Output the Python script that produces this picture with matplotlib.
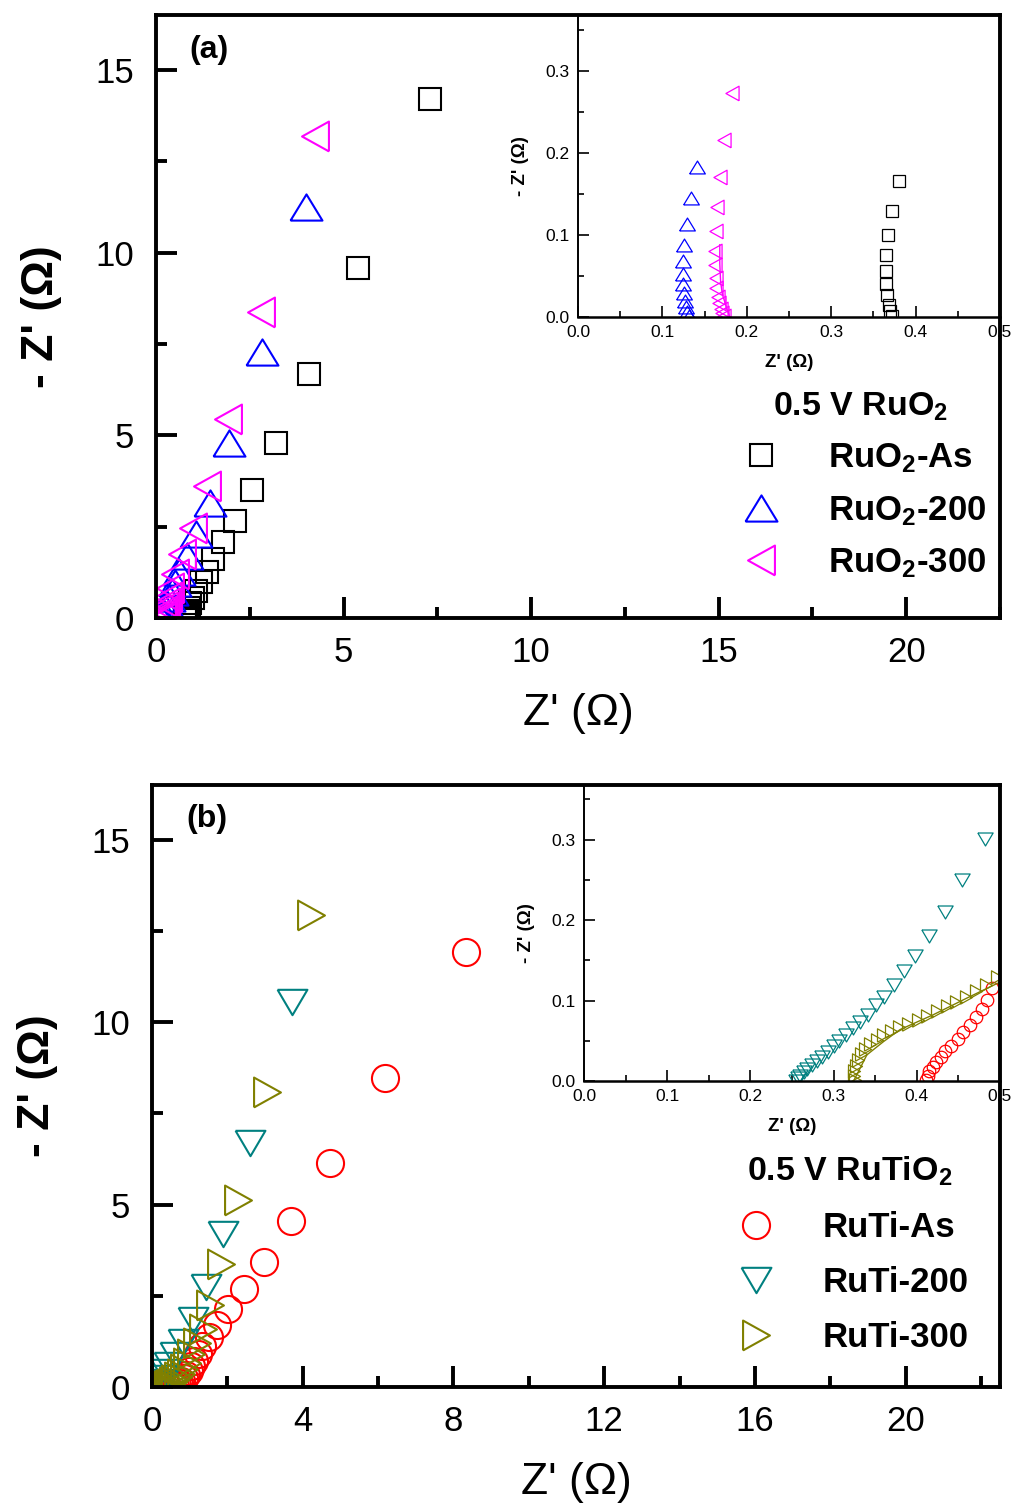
import matplotlib
matplotlib.use("Agg")
import matplotlib.pyplot as plt
from matplotlib.ticker import MultipleLocator, FormatStrFormatter

plt.rcParams["font.family"] = ["Liberation Sans", "DejaVu Sans"]
plt.rcParams["mathtext.fontset"] = "custom"
plt.rcParams["mathtext.rm"] = "Liberation Sans"
plt.rcParams["mathtext.bf"] = "Liberation Sans:bold"
plt.rcParams["mathtext.it"] = "Liberation Sans:italic"

# ---- panel (a) main data: Z' and -Z'' in ohm ----
ruo2_as_x = [7.31, 5.39, 4.07, 3.20, 2.56, 2.12, 1.78, 1.51, 1.36, 1.20, 1.08, 0.99,
             0.92, 0.87, 0.83, 0.80, 0.78, 0.77]
ruo2_as_y = [14.20, 9.57, 6.68, 4.78, 3.50, 2.65, 2.07, 1.62, 1.27, 0.98, 0.74, 0.55,
             0.40, 0.28, 0.18, 0.10, 0.04, 0.00]
ruo2_200_x = [4.01, 2.82, 1.96, 1.44, 1.06, 0.82, 0.62, 0.50, 0.42, 0.35, 0.29, 0.24,
              0.20, 0.16, 0.14, 0.13]
ruo2_200_y = [11.26, 7.28, 4.80, 3.14, 2.30, 1.69, 1.25, 0.95, 0.72, 0.54, 0.39, 0.27,
              0.17, 0.09, 0.04, 0.01]
ruo2_300_x = [4.25, 2.81, 1.93, 1.37, 0.99, 0.70, 0.50, 0.38, 0.31, 0.26, 0.22, 0.19,
              0.17, 0.16, 0.16]
ruo2_300_y = [13.20, 8.38, 5.44, 3.61, 2.45, 1.76, 1.20, 0.82, 0.58, 0.41, 0.29, 0.19,
              0.11, 0.05, 0.01]

# ---- panel (a) inset data ----
ins_ruo2_as_x = [0.380, 0.372, 0.367, 0.365, 0.3646, 0.3646, 0.366, 0.368, 0.370, 0.372]
ins_ruo2_as_y = [0.166, 0.129, 0.100, 0.076, 0.056, 0.040, 0.027, 0.015, 0.007, 0.001]
ins_ruo2_200_x = [0.1416, 0.1336, 0.1293, 0.1257, 0.1250, 0.1246, 0.1246, 0.1253,
                  0.1265, 0.1277, 0.1290, 0.1310]
ins_ruo2_200_y = [0.183, 0.1445, 0.1137, 0.0883, 0.0677, 0.052, 0.040, 0.0287,
                  0.0197, 0.0123, 0.006, 0.001]
ins_ruo2_300_x = [0.1827, 0.1732, 0.168, 0.1649, 0.1633, 0.162, 0.162, 0.163, 0.164,
                  0.1657, 0.167, 0.169, 0.171, 0.173]
ins_ruo2_300_y = [0.273, 0.2155, 0.170, 0.134, 0.1047, 0.080, 0.0636, 0.047, 0.035,
                  0.0246, 0.0164, 0.010, 0.005, 0.001]
fit_ruo2_300_x = [0.168, 0.168, 0.169, 0.171, 0.174, 0.177, 0.180]
fit_ruo2_300_y = [0.088, 0.065, 0.043, 0.028, 0.018, 0.008, 0.000]

# ---- panel (b) main data ----
ruti_as_x = [8.34, 6.19, 4.73, 3.69, 2.97, 2.43, 2.03, 1.72, 1.50, 1.34, 1.22, 1.12,
             1.04, 0.97, 0.90, 0.84, 0.78, 0.72, 0.66, 0.60]
ruti_as_y = [11.91, 8.46, 6.13, 4.54, 3.43, 2.68, 2.13, 1.70, 1.38, 1.12, 0.90, 0.72,
             0.57, 0.45, 0.34, 0.25, 0.17, 0.11, 0.06, 0.03]
ruti_200_x = [3.72, 2.60, 1.89, 1.44, 1.09, 0.82, 0.60, 0.46, 0.37, 0.31, 0.28, 0.26,
              0.255]
ruti_200_y = [10.54, 6.68, 4.19, 2.73, 1.84, 1.24, 0.88, 0.61, 0.41, 0.26, 0.15, 0.07,
              0.02]
ruti_300_x = [4.22, 3.05, 2.29, 1.84, 1.54, 1.35, 1.19, 1.04, 0.93, 0.84, 0.76, 0.69,
              0.62, 0.56, 0.50, 0.45, 0.40, 0.36, 0.33]
ruti_300_y = [12.95, 8.08, 5.12, 3.36, 2.26, 1.59, 1.20, 0.90, 0.67, 0.50, 0.37, 0.27,
              0.19, 0.13, 0.08, 0.05, 0.03, 0.01, 0.00]

# ---- panel (b) inset data ----
ins_ruti_as_x = [0.491, 0.485, 0.478, 0.471, 0.464, 0.456, 0.449, 0.441, 0.434, 0.429,
                 0.423, 0.419, 0.415, 0.413, 0.411]
ins_ruti_as_y = [0.116, 0.101, 0.090, 0.080, 0.070, 0.061, 0.0525, 0.044, 0.037, 0.030,
                 0.024, 0.018, 0.012, 0.006, 0.001]
ins_ruti_200_x = [0.482, 0.454, 0.434, 0.415, 0.398, 0.385, 0.373, 0.361, 0.351, 0.341,
                  0.332, 0.323, 0.315, 0.307, 0.300, 0.293, 0.286, 0.280, 0.274,
                  0.2685, 0.264, 0.260, 0.257, 0.255]
ins_ruti_200_y = [0.301, 0.250, 0.210, 0.180, 0.155, 0.137, 0.120, 0.105, 0.094, 0.0825,
                  0.073, 0.066, 0.0575, 0.050, 0.043, 0.0367, 0.030, 0.025, 0.020,
                  0.015, 0.011, 0.0067, 0.0033, 0.0004]
ins_ruti_300_x = [0.496, 0.483, 0.471, 0.459, 0.447, 0.436, 0.424, 0.412, 0.401, 0.390,
                  0.379, 0.369, 0.360, 0.352, 0.344, 0.338, 0.333, 0.329, 0.327, 0.325,
                  0.325, 0.326]
ins_ruti_300_y = [0.129, 0.119, 0.112, 0.105, 0.098, 0.093, 0.087, 0.081, 0.076, 0.071,
                  0.067, 0.062, 0.057, 0.051, 0.046, 0.040, 0.033, 0.026, 0.019,
                  0.0125, 0.0067, 0.001]
fit_ruti_300_x = [0.324, 0.330, 0.340, 0.360, 0.380, 0.420, 0.460, 0.496, 0.510]
fit_ruti_300_y = [0.000, 0.012, 0.0325, 0.049, 0.064, 0.0825, 0.103, 0.121, 0.127]

# hollow marker shapes (wider than tall, like the original software)
TRI_UP = [(-1, -0.82), (1, -0.82), (0, 0.82), (-1, -0.82)]
TRI_DOWN = [(-1, 0.85), (1, 0.85), (0, -0.85), (-1, 0.85)]
TRI_LEFT = [(0.9, -1), (0.9, 1), (-0.9, 0), (0.9, -1)]
TRI_RIGHT = [(-0.9, -1), (-0.9, 1), (0.9, 0), (-0.9, -1)]


def style_main(ax, xmajor):
    ax.set_xlim(0, 22.5)
    ax.set_ylim(0, 16.5)
    ax.xaxis.set_major_locator(MultipleLocator(xmajor))
    ax.xaxis.set_minor_locator(MultipleLocator(xmajor / 2))
    ax.yaxis.set_major_locator(MultipleLocator(5))
    ax.yaxis.set_minor_locator(MultipleLocator(2.5))
    for s in ax.spines.values():
        s.set_linewidth(2.8)
    ax.tick_params(which="both", direction="in", top=False, right=False,
                   labelsize=25, width=2.8)
    ax.tick_params(which="major", length=15)
    ax.tick_params(which="minor", length=8)
    ax.tick_params(axis="x", pad=13)
    ax.tick_params(axis="y", pad=16)
    ax.set_xlabel("Z' (Ω)", fontsize=32, labelpad=17)
    ax.set_ylabel("- Z' (Ω)", fontsize=32, fontweight="bold", labelpad=24)
    ax.patch.set_alpha(0)
    ax.set_zorder(2)


def style_inset(ax):
    ax.set_xlim(0, 0.5)
    ax.set_ylim(0, 0.368)
    ax.xaxis.set_major_locator(MultipleLocator(0.1))
    ax.xaxis.set_minor_locator(MultipleLocator(0.05))
    ax.yaxis.set_major_locator(MultipleLocator(0.1))
    ax.yaxis.set_minor_locator(MultipleLocator(0.05))
    ax.xaxis.set_major_formatter(FormatStrFormatter("%.1f"))
    ax.yaxis.set_major_formatter(FormatStrFormatter("%.1f"))
    ax.spines["top"].set_visible(False)
    ax.spines["right"].set_visible(False)
    ax.spines["left"].set_linewidth(1.4)
    ax.spines["bottom"].set_linewidth(1.8)
    ax.tick_params(which="both", direction="in", top=False, right=False,
                   labelsize=12.5, width=1.2, pad=6)
    ax.tick_params(which="major", length=8)
    ax.tick_params(which="minor", length=4)
    ax.set_xlabel("Z' (Ω)", fontsize=13.5, fontweight="bold", labelpad=10)
    ax.set_ylabel("- Z' (Ω)", fontsize=13.5, fontweight="bold", labelpad=12)
    ax.set_facecolor("none")
    ax.set_zorder(1)


fig = plt.figure(figsize=(10.16, 15.05), dpi=100)
ax_a = fig.add_axes([0.1535, 0.5894, 0.8307, 0.4006])
ins_a = fig.add_axes([0.5689, 0.7894, 0.4153, 0.2006])
ax_b = fig.add_axes([0.1496, 0.0784, 0.8346, 0.4000])
ins_b = fig.add_axes([0.5748, 0.2817, 0.4094, 0.1967])

mew = 1.5
legend_kw = dict(loc="lower right", frameon=False, numpoints=1, handlelength=1.5,
                 handletextpad=1.17, borderpad=0.1, prop={"size": 25, "weight": "bold"},
                 title_fontproperties={"size": 24.5, "weight": "bold"})

# panel (a)
ax_a.plot(ruo2_as_x, ruo2_as_y, ls="none", marker="s", ms=16, mfc="none",
          mec="black", mew=mew, label=r"RuO$_\mathbf{2}$-As")
ax_a.plot(ruo2_200_x, ruo2_200_y, ls="none", marker=TRI_UP, ms=23, mfc="none",
          mec="blue", mew=mew, label=r"RuO$_\mathbf{2}$-200")
ax_a.plot(ruo2_300_x, ruo2_300_y, ls="none", marker=TRI_LEFT, ms=21.5, mfc="none",
          mec="magenta", mew=mew, label=r"RuO$_\mathbf{2}$-300")
style_main(ax_a, 5)
ax_a.text(0.040, 0.967, "(a)", transform=ax_a.transAxes, fontsize=23,
          fontweight="bold", va="top", ha="left")
ax_a.legend(bbox_to_anchor=(1.008, 0.028), labelspacing=0.54,
            title=r"0.5 V RuO$_\mathbf{2}$", **legend_kw)

ins_a.plot(ins_ruo2_as_x, ins_ruo2_as_y, ls="none", marker="s", ms=8.6, mfc="none",
           mec="black", mew=0.9)
ins_a.plot(ins_ruo2_200_x, ins_ruo2_200_y, ls="none", marker=TRI_UP, ms=11.3,
           mfc="none", mec="blue", mew=0.9)
ins_a.plot(ins_ruo2_300_x, ins_ruo2_300_y, ls="none", marker=TRI_LEFT, ms=10.5,
           mfc="none", mec="magenta", mew=0.9)
ins_a.plot(fit_ruo2_300_x, fit_ruo2_300_y, color="magenta", lw=1.0)
style_inset(ins_a)

# panel (b)
ax_b.plot(ruti_as_x, ruti_as_y, ls="none", marker="o", ms=19.5, mfc="none",
          mec="red", mew=mew, label="RuTi-As")
ax_b.plot(ruti_200_x, ruti_200_y, ls="none", marker=TRI_DOWN, ms=21.5, mfc="none",
          mec="#008080", mew=mew, label="RuTi-200")
ax_b.plot(ruti_300_x, ruti_300_y, ls="none", marker=TRI_RIGHT, ms=21.5, mfc="none",
          mec="#808000", mew=mew, label="RuTi-300")
style_main(ax_b, 4)
ax_b.text(0.040, 0.969, "(b)", transform=ax_b.transAxes, fontsize=23,
          fontweight="bold", va="top", ha="left")
ax_b.legend(bbox_to_anchor=(0.988, 0.02), labelspacing=0.64,
            title=r"0.5 V RuTiO$_\mathbf{2}$", **legend_kw)

ins_b.plot(ins_ruti_as_x, ins_ruti_as_y, ls="none", marker="o", ms=9, mfc="none",
           mec="red", mew=0.9)
ins_b.plot(ins_ruti_200_x, ins_ruti_200_y, ls="none", marker=TRI_DOWN, ms=11,
           mfc="none", mec="#008080", mew=0.9)
ins_b.plot(ins_ruti_300_x, ins_ruti_300_y, ls="none", marker=TRI_RIGHT, ms=9.6,
           mfc="none", mec="#808000", mew=0.9)
ins_b.plot(fit_ruti_300_x, fit_ruti_300_y, color="#808000", lw=1.0)
style_inset(ins_b)

fig.savefig("out.png", dpi=100)
